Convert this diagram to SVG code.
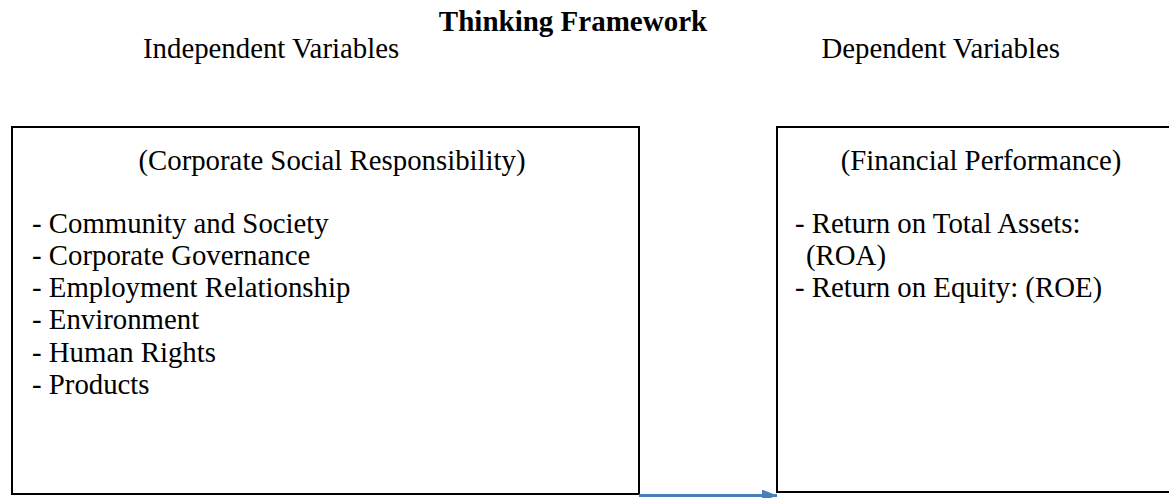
<svg xmlns="http://www.w3.org/2000/svg" width="1169" height="498" viewBox="0 0 1169 498">
  <defs>
    <style>
      .t { font-family: "Liberation Serif", "Times New Roman", serif; font-size: 28.8px; fill: #000; }
      .title { font-weight: bold; font-size: 29px; }
      .box { fill: #fff; stroke: #000; stroke-width: 2; }
      .conn { stroke: #4a7ebb; stroke-width: 3; fill: none; }
    </style>
    <marker id="arrow" viewBox="0 0 15 12" refX="15" refY="6" markerWidth="15" markerHeight="12" orient="auto" markerUnits="userSpaceOnUse">
      <path d="M0,0 L15,6 L0,12 z" fill="#4a7ebb"/>
    </marker>
  </defs>
  <rect width="1169" height="498" fill="#fff"/>

  <!-- headings -->
  <g id="headings">
    <text class="t title" x="573" y="31" text-anchor="middle">Thinking Framework</text>
    <text class="t" x="143" y="58">Independent Variables</text>
    <text class="t" x="1060" y="58" text-anchor="end">Dependent Variables</text>
  </g>

  <!-- independent variables box -->
  <g id="csr">
    <rect class="box" x="12" y="127" width="627" height="367"/>
    <text class="t" x="332" y="170" text-anchor="middle">(Corporate Social Responsibility)</text>
    <text class="t" x="32" y="233">- Community and Society</text>
    <text class="t" x="32" y="265">- Corporate Governance</text>
    <text class="t" x="32" y="297">- Employment Relationship</text>
    <text class="t" x="32" y="329">- Environment</text>
    <text class="t" x="32" y="362">- Human Rights</text>
    <text class="t" x="32" y="394">- Products</text>
  </g>

  <!-- dependent variables box (runs past the right edge) -->
  <g id="financial">
    <rect class="box" x="777" y="127" width="420" height="365"/>
    <text class="t" x="981" y="170" text-anchor="middle">(Financial Performance)</text>
    <text class="t" x="795" y="233">- Return on Total Assets:</text>
    <text class="t" x="806" y="265">(ROA)</text>
    <text class="t" x="795" y="297">- Return on Equity: (ROE)</text>
  </g>

  <!-- connectors -->
  <g id="connectors">
    <line class="conn" x1="639" y1="495.5" x2="777" y2="495.5" marker-end="url(#arrow)"/>
  </g>
</svg>
